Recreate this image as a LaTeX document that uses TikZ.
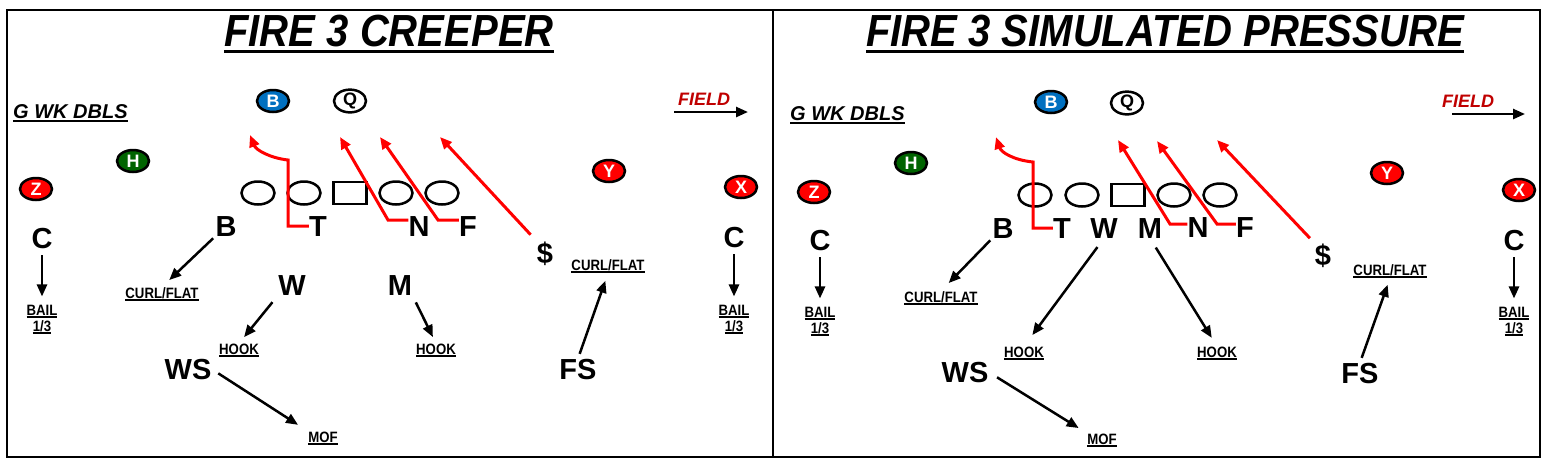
\documentclass[tikz,border=0pt]{standalone}
\usepackage{fontspec}
\usepackage{graphicx}
\setmainfont{Liberation Sans}
\usetikzlibrary{shapes.geometric,arrows.meta}
\definecolor{pblue}{RGB}{0,112,192}
\definecolor{pgreen}{RGB}{0,100,0}
\definecolor{pred}{RGB}{255,0,0}
\definecolor{fieldred}{RGB}{192,0,0}
\newcommand{\ulbox}[3]{\setbox0=\hbox{#3}\rlap{\rule[-#1]{\wd0}{#2}}\box0}
\newcommand{\lbl}[1]{\scalebox{0.88}[1]{\ulbox{3pt}{1.8pt}{#1}}}
\tikzset{
  player/.style={ellipse, draw=black, line width=2.5pt, minimum width=32pt, minimum height=22pt, inner sep=0pt, font=\fontsize{18}{18}\selectfont\bfseries, text=white},
  olbox/.style={ellipse, draw=black, line width=2.5pt, minimum width=33pt, minimum height=23pt, inner sep=0pt},
  ctrbox/.style={rectangle, draw=black, line width=2.5pt, minimum width=33pt, minimum height=22pt, inner sep=0pt},
  big/.style={font=\fontsize{29}{29}\selectfont\bfseries, inner sep=0pt, anchor=base},
  lab/.style={font=\fontsize{15}{15}\selectfont\bfseries, inner sep=0pt, anchor=base},
  ttl/.style={font=\fontsize{45}{45}\selectfont\bfseries\itshape, inner sep=0pt, anchor=base},
  form/.style={font=\fontsize{20}{20}\selectfont\bfseries\itshape, inner sep=0pt, anchor=base west},
  fld/.style={font=\fontsize{18}{18}\selectfont\bfseries\itshape, text=fieldred, inner sep=0pt, anchor=base west},
  arr/.style={line width=2.5pt, -{Triangle[length=12pt,width=10pt]}},
  blitz/.style={pred, line width=3pt, -{Triangle[length=12pt,width=10pt]}},
}
\begin{document}
\begin{tikzpicture}[x=1pt,y=-1pt]
\useasboundingbox (0,0) rectangle (1543,459);
\fill[white] (0,0) rectangle (1543,459);
% frame
\draw[line width=2.5pt] (7,10) rectangle (1540,457);
\draw[line width=2.5pt] (773,10) -- (773,457);

% ================= LEFT PANEL =================
\node[ttl] (title1) at (389,46) {\scalebox{0.89}[1]{\ulbox{7pt}{3pt}{FIRE 3 CREEPER}}};
\node[form] (form1) at (13,118) {\ulbox{3.5pt}{2pt}{G WK DBLS}};
\node[fld] (fld1) at (678,105) {FIELD};
\coordinate (fa1) at (674,112);
\coordinate (fb1) at (748,112);
\draw[arr] (fa1) -- (fb1);

\node[player, fill=pblue] (pB1) at (273,101) {B};
\node[player, fill=white, text=black] (pQ1) at (350,101) {Q};
\node[player, fill=pgreen] (pH1) at (133,161) {H};
\node[player, fill=pred] (pZ1) at (36,189) {Z};
\node[player, fill=pred] (pY1) at (609,171) {Y};
\node[player, fill=pred] (pX1) at (741,187) {X};

\node[olbox] (o11) at (258,193) {};
\node[olbox] (o12) at (304,193) {};
\node[ctrbox] (o13) at (350,193) {};
\node[olbox] (o14) at (396,193) {};
\node[olbox] (o15) at (442,193) {};

\node[big] (lB1) at (226,236) {B};
\node[big] (lT1) at (318,236) {T};
\node[big] (lN1) at (419,236) {N};
\node[big] (lF1) at (468,236) {F};
\node[big] (lD1) at (545,263) {\$};
\node[big] (lW1) at (292,295) {W};
\node[big] (lM1) at (400,295) {M};
\node[big] (lWS1) at (188,379) {WS};
\node[big] (lFS1) at (578,379) {FS};
\node[big] (lC11) at (42,248) {C};
\node[big] (lC21) at (734,247) {C};

\node[lab] (cfa1) at (162,298) {\lbl{CURL/FLAT}};
\node[lab] (cfb1) at (608,270) {\lbl{CURL/FLAT}};
\node[lab] (bla1) at (42,315) {\lbl{BAIL}};
\node[lab] (tha1) at (42,331) {\lbl{1/3}};
\node[lab] (blb1) at (734,315) {\lbl{BAIL}};
\node[lab] (thb1) at (734,331) {\lbl{1/3}};
\node[lab] (hka1) at (239,354) {\lbl{HOOK}};
\node[lab] (hkb1) at (436,354) {\lbl{HOOK}};
\node[lab] (mof1) at (323,442) {\lbl{MOF}};

% blitz paths
\coordinate (cT1) at (288,160);
\coordinate (tT1) at (250,135);
\draw[blitz] (lT1.west) -| (cT1) .. controls (270,158) and (256,150) .. (tT1);
\coordinate (cN1) at (388,220);
\coordinate (tN1) at (340,137);
\draw[blitz] ([yshift=6pt]lN1.west) -- (cN1) -- (tN1);
\coordinate (cF1) at (438,220);
\coordinate (tF1) at (380,137);
\draw[blitz] ([yshift=6pt]lF1.west) -- (cF1) -- (tF1);
\coordinate (tD1) at (440,137);
\draw[blitz, shorten <=9pt] (lD1.north west) -- (tD1);

% coverage arrows
\draw[arr, shorten <=3pt, shorten >=10pt] (lB1.south west) -- (cfa1.north);
\draw[arr, shorten <=9pt, shorten >=8pt] (lW1.south west) -- (hka1.north);
\draw[arr, shorten <=8pt, shorten >=7pt] (lM1.south east) -- (hkb1.north);
\draw[arr, shorten <=8pt, shorten >=12pt] (lWS1.east) -- (mof1.north west);
\draw[arr, shorten <=5pt, shorten >=8pt] (lFS1.north) -- (cfb1.south);
\draw[arr, shorten <=7pt, shorten >=8pt] (lC11.south) -- (bla1.north);
\draw[arr, shorten <=7pt, shorten >=8pt] (lC21.south) -- (blb1.north);

% ================= RIGHT PANEL =================
\node[ttl] (title2) at (1165,46) {\scalebox{0.89}[1]{\ulbox{7pt}{3pt}{FIRE 3 SIMULATED PRESSURE}}};
\node[form] (form2) at (790,120) {\ulbox{3.5pt}{2pt}{G WK DBLS}};
\node[fld] (fld2) at (1442,107) {FIELD};
\coordinate (fa2) at (1452,114);
\coordinate (fb2) at (1525,114);
\draw[arr] (fa2) -- (fb2);

\node[player, fill=pblue] (pB2) at (1051,102) {B};
\node[player, fill=white, text=black] (pQ2) at (1127,103) {Q};
\node[player, fill=pgreen] (pH2) at (911,163) {H};
\node[player, fill=pred] (pZ2) at (814,192) {Z};
\node[player, fill=pred] (pY2) at (1387,173) {Y};
\node[player, fill=pred] (pX2) at (1519,190) {X};

\node[olbox] (o21) at (1035,195) {};
\node[olbox] (o22) at (1082,195) {};
\node[ctrbox] (o23) at (1128,195) {};
\node[olbox] (o24) at (1174,195) {};
\node[olbox] (o25) at (1220,195) {};

\node[big] (lB2) at (1003,238) {B};
\node[big] (lT2) at (1062,238) {T};
\node[big] (lW2) at (1104,238) {W};
\node[big] (lM2) at (1150,238) {M};
\node[big] (lN2) at (1198,237) {N};
\node[big] (lF2) at (1245,237) {F};
\node[big] (lD2) at (1323,265) {\$};
\node[big] (lWS2) at (965,382) {WS};
\node[big] (lFS2) at (1360,383) {FS};
\node[big] (lC12) at (820,250) {C};
\node[big] (lC22) at (1514,250) {C};

\node[lab] (cfa2) at (941,302) {\lbl{CURL/FLAT}};
\node[lab] (cfb2) at (1390,275) {\lbl{CURL/FLAT}};
\node[lab] (bla2) at (820,317) {\lbl{BAIL}};
\node[lab] (tha2) at (820,333) {\lbl{1/3}};
\node[lab] (blb2) at (1514,317) {\lbl{BAIL}};
\node[lab] (thb2) at (1514,333) {\lbl{1/3}};
\node[lab] (hka2) at (1024,357) {\lbl{HOOK}};
\node[lab] (hkb2) at (1217,357) {\lbl{HOOK}};
\node[lab] (mof2) at (1102,444) {\lbl{MOF}};

% blitz paths
\coordinate (cT2) at (1033,162);
\coordinate (tT2) at (996,137);
\draw[blitz] (lT2.west) -| (cT2) .. controls (1013,160) and (1001,152) .. (tT2);
\coordinate (cN2) at (1170,224);
\coordinate (tN2) at (1118,140);
\draw[blitz] ([yshift=3pt]lN2.west) -- (cN2) -- (tN2);
\coordinate (cF2) at (1217,224);
\coordinate (tF2) at (1157,141);
\draw[blitz] ([yshift=3pt]lF2.west) -- (cF2) -- (tF2);
\coordinate (tD2) at (1217,140);
\draw[blitz, shorten <=7pt] (lD2.north west) -- (tD2);

% coverage arrows
\draw[arr, shorten <=3pt, shorten >=11pt] (lB2.south west) -- (cfa2.north);
\draw[arr, shorten <=11pt, shorten >=14pt] (lW2.south) -- (hka2.north);
\draw[arr, shorten <=11pt, shorten >=10pt] (lM2.south) -- (hkb2.north);
\draw[arr, shorten <=10pt, shorten >=10pt] (lWS2.east) -- (mof2.north west);
\draw[arr, shorten <=5pt, shorten >=7pt] (lFS2.north) -- (cfb2.south);
\draw[arr, shorten <=7pt, shorten >=8pt] (lC12.south) -- (bla2.north);
\draw[arr, shorten <=7pt, shorten >=8pt] (lC22.south) -- (blb2.north);
\end{tikzpicture}
\end{document}
